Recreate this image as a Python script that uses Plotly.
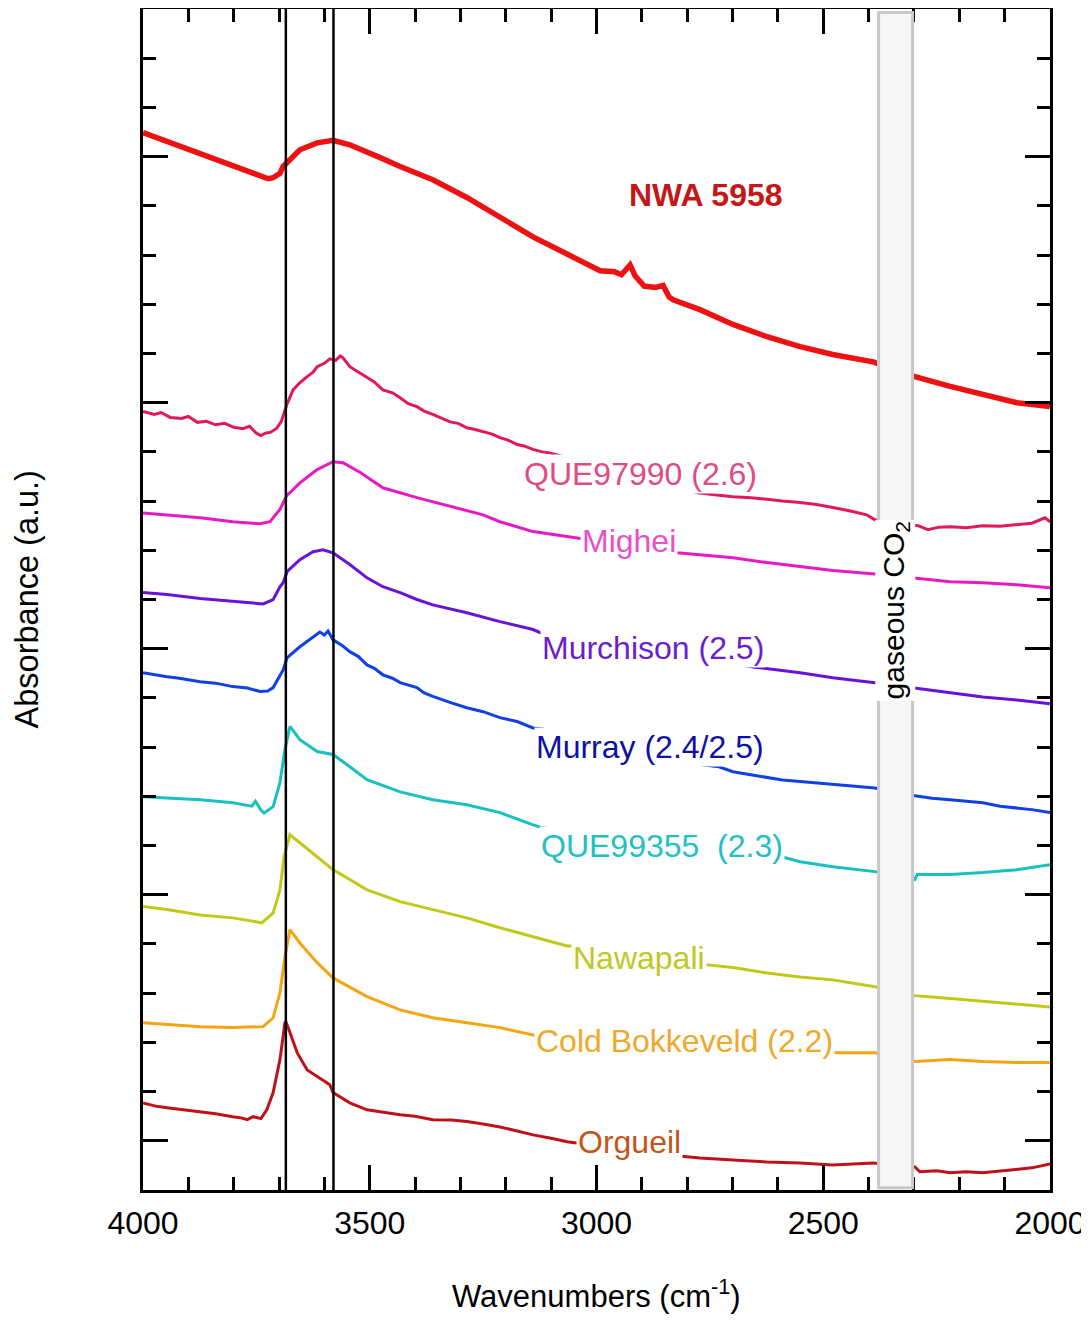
import plotly.graph_objects as go

FONT = "Liberation Sans, Arial, sans-serif"

# IR spectra: wavenumber (cm-1) and stacked absorbance (a.u.)
nwa_wn = [4000, 3850, 3735, 3724, 3713, 3698, 3691, 3682, 3654, 3616, 3581, 3544, 3506,
          3477, 3433, 3361, 3286, 3213, 3140, 3065, 3008, 2992, 2960, 2945, 2926, 2915,
          2895, 2870, 2853, 2840, 2831, 2772, 2699, 2624, 2551, 2479, 2390, 2298, 2220,
          2148, 2073, 2000]
nwa_abs = [21.49, 20.99, 20.61, 20.55, 20.57, 20.66, 20.80, 20.88, 21.14, 21.28, 21.33,
           21.24, 21.10, 20.98, 20.80, 20.53, 20.17, 19.76, 19.37, 19.02, 18.76, 18.68,
           18.66, 18.60, 18.80, 18.58, 18.37, 18.34, 18.38, 18.15, 18.09, 17.89, 17.59,
           17.34, 17.14, 16.98, 16.83, 16.53, 16.33, 16.16, 16.00, 15.92]

que97990_wn = [4000, 3975, 3960, 3940, 3915, 3900, 3880, 3860, 3840, 3820, 3800, 3780,
               3765, 3750, 3740, 3730, 3718, 3705, 3695, 3687, 3682, 3669, 3655, 3638,
               3625, 3616, 3600, 3588, 3575, 3565, 3559, 3544, 3525, 3506, 3490, 3471,
               3450, 3433, 3415, 3396, 3380, 3361, 3340, 3323, 3305, 3286, 3270, 3250,
               3230, 3213, 3195, 3175, 3160, 3140, 3120, 3103, 2776, 2740, 2699, 2660,
               2624, 2590, 2551, 2515, 2479, 2440, 2404, 2386, 2291, 2269, 2245, 2220,
               2185, 2148, 2110, 2073, 2040, 2011, 2000]
que97990_abs = [15.82, 15.76, 15.80, 15.70, 15.68, 15.72, 15.60, 15.62, 15.55, 15.58,
                15.50, 15.47, 15.52, 15.38, 15.33, 15.38, 15.40, 15.48, 15.62, 15.85,
                15.98, 16.26, 16.40, 16.53, 16.62, 16.73, 16.80, 16.89, 16.86, 16.95,
                16.91, 16.73, 16.62, 16.51, 16.42, 16.26, 16.20, 16.10, 15.98, 15.92,
                15.83, 15.76, 15.68, 15.61, 15.58, 15.49, 15.46, 15.41, 15.36, 15.29,
                15.24, 15.15, 15.12, 15.05, 15.00, 14.98, 14.17, 14.13, 14.09, 14.07,
                14.03, 14.00, 13.97, 13.93, 13.87, 13.80, 13.72, 13.62, 13.50, 13.42,
                13.47, 13.48, 13.46, 13.50, 13.49, 13.52, 13.55, 13.66, 13.58]

mighei_wn = [4000, 3874, 3802, 3742, 3720, 3698, 3682, 3676, 3654, 3616, 3581, 3559,
             3521, 3471, 3396, 3323, 3250, 3213, 3140, 3065, 3036, 2822, 2772, 2699,
             2624, 2551, 2479, 2386, 2291, 2220, 2148, 2073, 2000]
mighei_abs = [13.76, 13.66, 13.58, 13.54, 13.58, 13.83, 14.13, 14.17, 14.37, 14.64,
              14.80, 14.78, 14.58, 14.27, 14.07, 13.89, 13.72, 13.58, 13.38, 13.28,
              13.24, 12.95, 12.91, 12.85, 12.75, 12.67, 12.59, 12.52, 12.42, 12.36,
              12.34, 12.30, 12.24]

murchison_wn = [4000, 3947, 3874, 3802, 3735, 3713, 3698, 3691, 3682, 3654, 3625, 3603,
                3581, 3544, 3506, 3471, 3433, 3396, 3361, 3286, 3213, 3140, 3125, 2655,
                2551, 2479, 2386, 2291, 2220, 2148, 2073, 2000]
murchison_abs = [12.14, 12.10, 12.02, 11.96, 11.91, 12.00, 12.26, 12.34, 12.57, 12.81,
                 12.97, 13.01, 12.95, 12.71, 12.44, 12.26, 12.14, 12.00, 11.89, 11.73,
                 11.55, 11.39, 11.33, 10.63, 10.51, 10.41, 10.31, 10.19, 10.11, 10.02,
                 9.96, 9.88]

murray_wn = [4000, 3970, 3947, 3920, 3874, 3840, 3802, 3770, 3742, 3725, 3713, 3691,
             3682, 3654, 3625, 3610, 3600, 3592, 3581, 3560, 3544, 3525, 3506, 3490,
             3471, 3450, 3433, 3415, 3396, 3380, 3361, 3320, 3286, 3250, 3213, 3175,
             3140, 3118, 2767, 2730, 2699, 2660, 2624, 2590, 2551, 2479, 2386, 2298,
             2260, 2220, 2185, 2148, 2110, 2073, 2040, 2000]
murray_abs = [10.51, 10.46, 10.43, 10.40, 10.33, 10.30, 10.23, 10.20, 10.13, 10.14,
              10.21, 10.57, 10.82, 11.04, 11.24, 11.34, 11.28, 11.36, 11.18, 11.06,
              10.94, 10.84, 10.67, 10.60, 10.47, 10.40, 10.31, 10.26, 10.21, 10.10,
              10.03, 9.90, 9.80, 9.72, 9.60, 9.52, 9.39, 9.37, 8.64, 8.60, 8.50, 8.44,
              8.38, 8.33, 8.30, 8.24, 8.17, 8.01, 7.96, 7.93, 7.90, 7.87, 7.80, 7.77,
              7.73, 7.67]

que99355_wn = [4000, 3947, 3874, 3802, 3760, 3752, 3740, 3733, 3722, 3713, 3698, 3687,
               3676, 3654, 3616, 3581, 3544, 3506, 3433, 3361, 3286, 3213, 3140, 3118,
               2584, 2551, 2479, 2386, 2298, 2293, 2220, 2148, 2073, 2000]
que99355_abs = [7.99, 7.97, 7.93, 7.87, 7.80, 7.90, 7.72, 7.66, 7.74, 7.79, 8.28, 8.95,
                9.42, 9.15, 8.91, 8.85, 8.60, 8.34, 8.09, 7.93, 7.83, 7.67, 7.42, 7.36,
                6.75, 6.67, 6.57, 6.47, 6.31, 6.41, 6.41, 6.45, 6.51, 6.61]

nawapali_wn = [4000, 3947, 3874, 3802, 3738, 3713, 3698, 3689, 3676, 3654, 3616, 3581,
               3544, 3506, 3433, 3361, 3286, 3213, 3140, 3065, 3054, 2761, 2699, 2624,
               2551, 2479, 2386, 2298, 2220, 2148, 2073, 2000]
nawapali_abs = [5.76, 5.70, 5.59, 5.53, 5.43, 5.63, 6.10, 6.77, 7.22, 7.06, 6.77, 6.51,
                6.31, 6.10, 5.86, 5.70, 5.53, 5.33, 5.15, 4.96, 4.96, 4.58, 4.52, 4.41,
                4.33, 4.27, 4.13, 3.95, 3.89, 3.83, 3.78, 3.72]

cold_bokkeveld_wn = [4000, 3874, 3802, 3735, 3713, 3698, 3687, 3676, 3654, 3616, 3581,
                     3544, 3506, 3433, 3361, 3286, 3213, 3140, 2481, 2386, 2298, 2220,
                     2148, 2073, 2000]
cold_bokkeveld_abs = [3.40, 3.32, 3.30, 3.32, 3.50, 4.01, 4.74, 5.29, 5.02, 4.62, 4.31,
                      4.13, 3.93, 3.66, 3.50, 3.40, 3.30, 3.15, 2.79, 2.79, 2.61, 2.65,
                      2.61, 2.59, 2.59]

orgueil_wn = [4000, 3970, 3947, 3910, 3874, 3840, 3802, 3786, 3770, 3757, 3740, 3727,
              3713, 3698, 3687, 3685, 3676, 3660, 3638, 3616, 3600, 3588, 3581, 3544,
              3506, 3470, 3433, 3400, 3361, 3320, 3286, 3250, 3213, 3175, 3140, 3100,
              3065, 2853, 2772, 2699, 2624, 2551, 2479, 2390, 2298, 2287, 2250, 2220,
              2185, 2148, 2110, 2073, 2040, 2000]
orgueil_abs = [1.77, 1.70, 1.67, 1.63, 1.59, 1.55, 1.49, 1.47, 1.43, 1.49, 1.45, 1.63,
               1.98, 2.65, 3.40, 3.42, 3.20, 2.79, 2.44, 2.30, 2.20, 2.14, 1.98, 1.77,
               1.63, 1.58, 1.53, 1.50, 1.43, 1.42, 1.39, 1.34, 1.28, 1.20, 1.12, 1.05,
               0.98, 0.72, 0.65, 0.61, 0.57, 0.55, 0.51, 0.55, 0.47, 0.37, 0.39, 0.35,
               0.37, 0.35, 0.38, 0.41, 0.45, 0.53]

# OH band reference lines and the gaseous CO2 window (cm-1)
ref_lines = [3685, 3580]
co2_band = [2378, 2303]

x_tickvals = [4000, 3500, 3000, 2500, 2000]
x_ticktext = ["4000", "3500", "3000", "2500", "2000"]

spectra = [
    ("NWA 5958", nwa_wn, nwa_abs, "#ee1111", 5.5),
    ("QUE97990 (2.6)", que97990_wn, que97990_abs, "#e2185c", 3),
    ("Mighei", mighei_wn, mighei_abs, "#e619c4", 3),
    ("Murchison (2.5)", murchison_wn, murchison_abs, "#6a12d6", 3),
    ("Murray (2.4/2.5)", murray_wn, murray_abs, "#1040e6", 3),
    ("QUE99355  (2.3)", que99355_wn, que99355_abs, "#18c0c2", 3),
    ("Nawapali", nawapali_wn, nawapali_abs, "#c2c818", 3),
    ("Cold Bokkeveld (2.2)", cold_bokkeveld_wn, cold_bokkeveld_abs, "#f5a412", 3),
    ("Orgueil", orgueil_wn, orgueil_abs, "#c0101a", 3),
]

# label text, colour, anchor (wavenumber, absorbance), bold?
labels = [
    ("NWA 5958", "#c41818", 2758, 20.23, True),
    ("QUE97990 (2.6)", "#e04a86", 2902, 14.56, False),
    ("Mighei", "#e850c8", 2928, 13.19, False),
    ("Murchison (2.5)", "#6a1ed0", 2875, 11.02, False),
    ("Murray (2.4/2.5)", "#0c10a8", 2882, 9.01, False),
    ("QUE99355  (2.3)", "#22c0c2", 2856, 7.00, False),
    ("Nawapali", "#c0c822", 2906, 4.72, False),
    ("Cold Bokkeveld (2.2)", "#f0a82a", 2807, 3.03, False),
    ("Orgueil", "#c2561a", 2928, 0.98, False),
]

fig = go.Figure()
for name, wn, ab, color, width in spectra:
    fig.add_trace(go.Scatter(x=wn, y=ab, mode="lines", name=name,
                             line=dict(color=color, width=width),
                             showlegend=False, hoverinfo="skip"))

for wn in ref_lines:
    fig.add_shape(type="line", xref="x", yref="paper", x0=wn, x1=wn, y0=0, y1=1,
                  line=dict(color="black", width=2.5), layer="above")
fig.add_shape(type="rect", xref="x", yref="paper", x0=co2_band[0], x1=co2_band[1],
              y0=0.002, y1=0.997, fillcolor="#f6f6f6",
              line=dict(color="#c8c8c8", width=3), layer="above")

for text, color, x, y, bold in labels:
    fig.add_annotation(x=x, y=y, xref="x", yref="y", showarrow=False,
                       text=f"<b>{text}</b>" if bold else text,
                       font=dict(family=FONT, size=32, color=color),
                       bgcolor="white", borderpad=1)

fig.add_annotation(x=sum(co2_band) / 2, y=11.77, xref="x", yref="y", showarrow=False,
                   text="gaseous CO<sub>2</sub>", textangle=-90,
                   font=dict(family=FONT, size=30, color="black"),
                   bgcolor="white", borderpad=1)

fig.add_annotation(x=0.5, y=-0.088, xref="paper", yref="paper", showarrow=False,
                   text="Wavenumbers (cm<sup>-1</sup>)", yanchor="middle",
                   font=dict(family=FONT, size=31, color="black"))
fig.add_annotation(x=-0.128, y=0.5, xref="paper", yref="paper", showarrow=False,
                   text="Absorbance (a.u.)", textangle=-90, xanchor="center",
                   font=dict(family=FONT, size=32.5, color="black"))

axis_style = dict(showline=True, linecolor="black", linewidth=3, mirror="allticks",
                  ticks="inside", tickcolor="black", tickwidth=2.5, ticklen=25,
                  showgrid=False, zeroline=False,
                  minor=dict(ticks="inside", ticklen=13, tickwidth=2.5,
                             tickcolor="black", showgrid=False))

fig.update_xaxes(range=[4000, 2000], tickvals=x_tickvals, ticktext=x_ticktext,
                 tickfont=dict(family=FONT, size=32, color="black"),
                 ticklabelstandoff=3, ticklabeloverflow="allow", **axis_style)
fig.update_xaxes(minor_dtick=100, minor_tick0=2000)
fig.update_yaxes(range=[0, 24], tick0=1, dtick=5, showticklabels=False, **axis_style)
fig.update_yaxes(minor_dtick=1, minor_tick0=0)

# the page body adds an 8px margin, so the figure is sized to fit the window
fig.update_layout(width=1081, height=1306,
                  margin=dict(l=135, r=39, t=1, b=124, autoexpand=False),
                  paper_bgcolor="white", plot_bgcolor="white",
                  font=dict(family=FONT, color="black"), showlegend=False)

fig.write_html("out.html")
